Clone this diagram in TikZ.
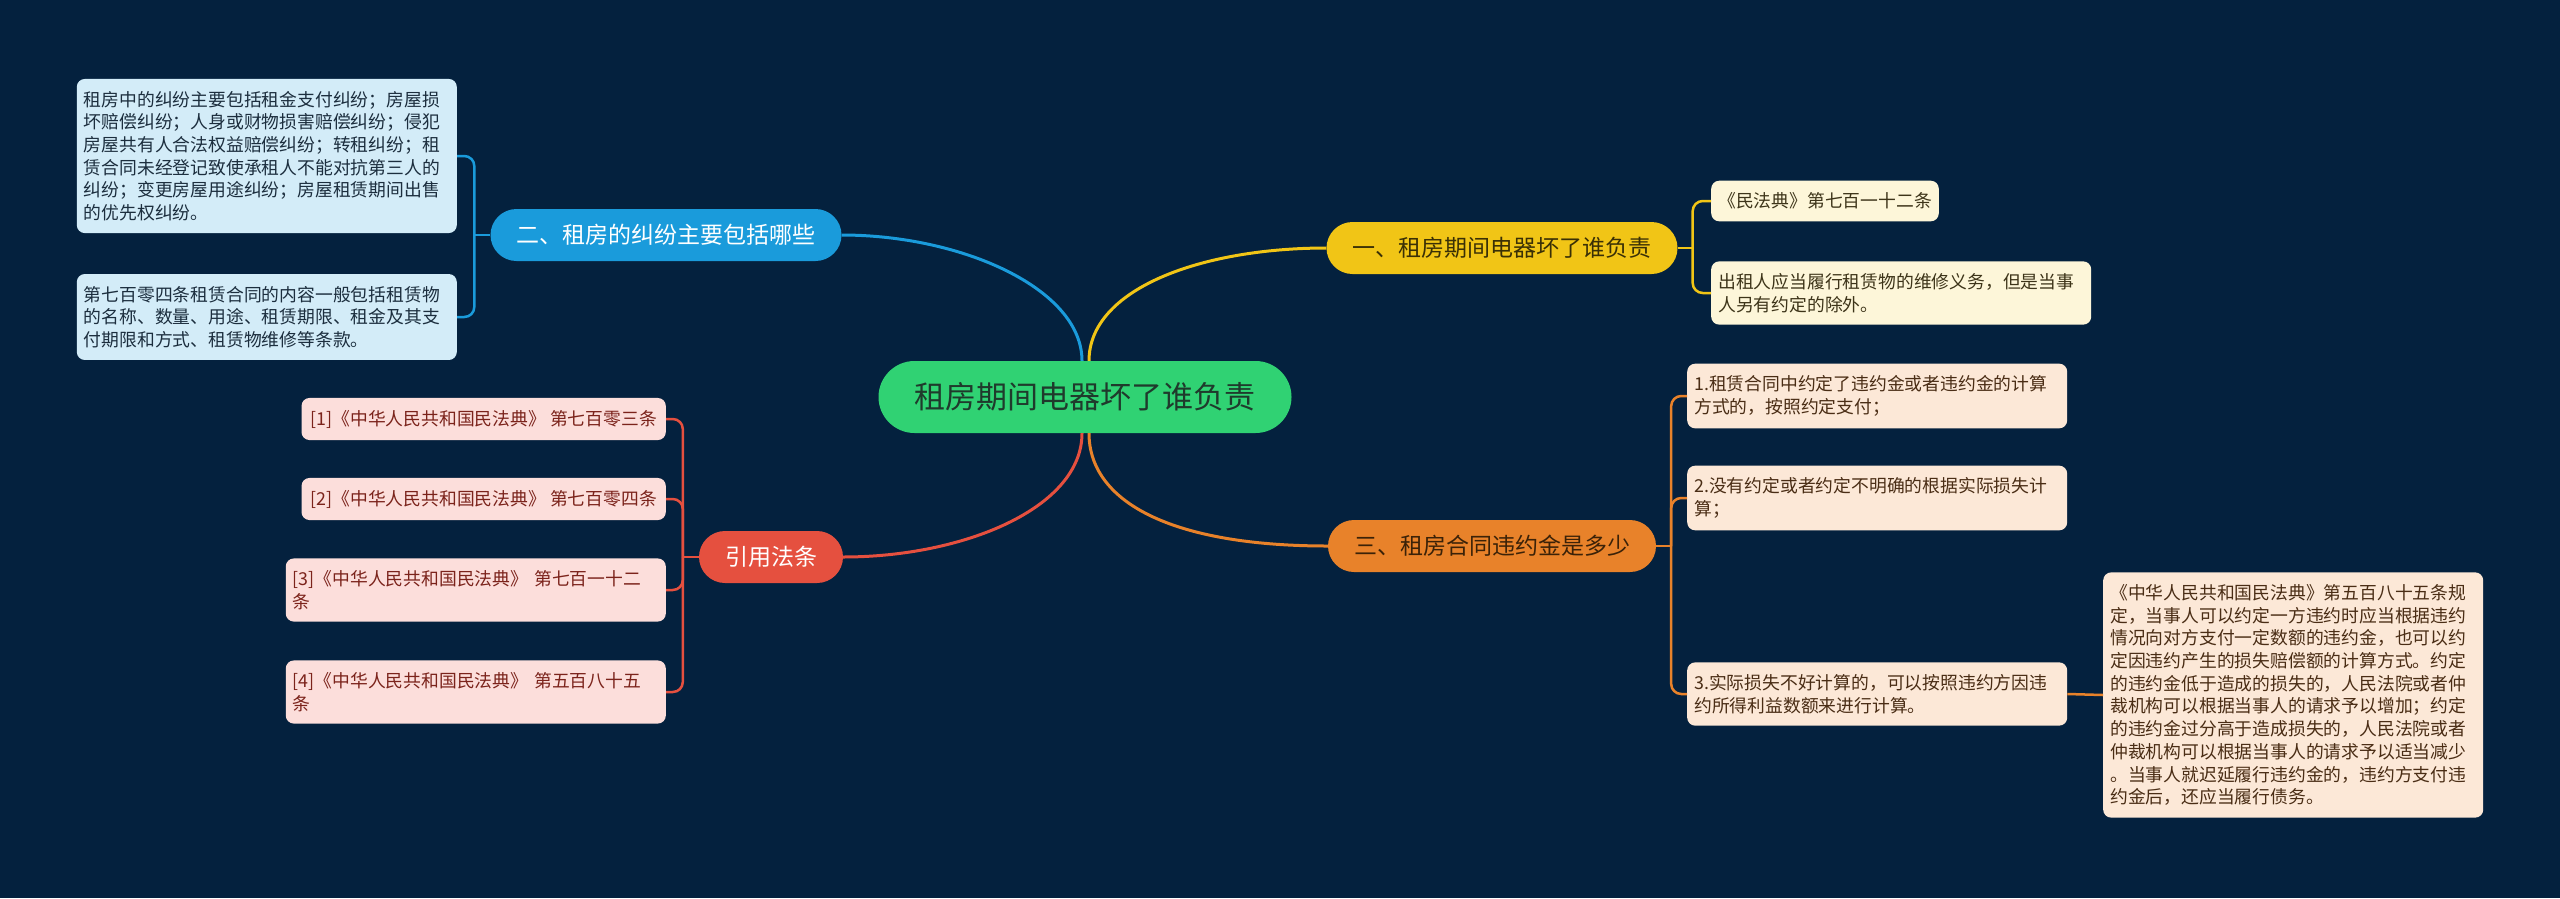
\documentclass[tikz,border=0pt]{standalone}
\usepackage{fontspec}
\setmainfont{Noto Sans CJK SC}
\usepackage{xcolor}
\usepackage{tikz}
\usetikzlibrary{positioning}

\definecolor{bgnavy}{HTML}{04213E}
\definecolor{cRoot}{HTML}{30D273}
\definecolor{cRootTx}{HTML}{1F3A2C}
\definecolor{cBlu}{HTML}{1A9BDB}
\definecolor{cBluLt}{HTML}{D3ECF8}
\definecolor{cBluDk}{HTML}{1C2E3E}
\definecolor{cYlw}{HTML}{F1C516}
\definecolor{cYlwTx}{HTML}{3A3006}
\definecolor{cYlwLt}{HTML}{FDF6D9}
\definecolor{cYlwDk}{HTML}{3D3419}
\definecolor{cOrg}{HTML}{E8822A}
\definecolor{cOrgTx}{HTML}{3B2208}
\definecolor{cOrgLt}{HTML}{FCE8D7}
\definecolor{cOrgDk}{HTML}{4A2D15}
\definecolor{cRed}{HTML}{E5503F}
\definecolor{cRedLt}{HTML}{FCDEDB}
\definecolor{cRedDk}{HTML}{7B231B}

\begin{document}
\begin{tikzpicture}[x=1pt, y=-1pt,
		rt/.style={fill=cRoot, text=cRootTx, rounded corners=36pt, minimum height=72pt,
			inner xsep=36pt, inner ysep=0pt, font=\fontsize{31}{36}\selectfont},
		br/.style={rounded corners=26pt, minimum height=52pt, inner xsep=26pt, inner ysep=0pt,
			font=\fontsize{23}{28}\selectfont},
		lf/.style={rounded corners=8pt, inner xsep=7pt, inner ysep=12pt, align=left,
			font=\fontsize{17.8}{22.7}\selectfont},
		wrap/.style={text width=366pt},
		ln/.style={line width=3pt},
		bk/.style={line width=2.5pt, rounded corners=10pt}]
	\fill[bgnavy] (0,0) rectangle (2560,898);
	\useasboundingbox (0,0) rectangle (2560,898);

	\node[rt] (r) at (1085,397) {租房期间电器坏了谁负责};

	% 一
	\node[br, fill=cYlw, text=cYlwTx] (b1) at (1502,248) {一、租房期间电器坏了谁负责};
	\node[lf, fill=cYlwLt, text=cYlwDk, anchor=west] (b1a) at (1711,201) {《民法典》第七百一十二条};
	\node[lf, wrap, fill=cYlwLt, text=cYlwDk, anchor=west] (b1b) at (1711,293)
		{出租人应当履行租赁物的维修义务，但是当事\\人另有约定的除外。};

	% 三
	\node[br, fill=cOrg, text=cOrgTx] (b3) at (1492,546) {三、租房合同违约金是多少};
	\node[lf, wrap, fill=cOrgLt, text=cOrgDk, anchor=west] (b3a) at (1687,396)
		{1.租赁合同中约定了违约金或者违约金的计算\\方式的，按照约定支付；};
	\node[lf, wrap, fill=cOrgLt, text=cOrgDk, anchor=west] (b3b) at (1687,498)
		{2.没有约定或者约定不明确的根据实际损失计\\算；};
	\node[lf, wrap, fill=cOrgLt, text=cOrgDk, anchor=west] (b3c) at (1687,694)
		{3.实际损失不好计算的，可以按照违约方因违\\约所得利益数额来进行计算。};
	\node[lf, wrap, fill=cOrgLt, text=cOrgDk, anchor=west] (b3d) at (2103,695)
		{《中华人民共和国民法典》第五百八十五条规\\定，当事人可以约定一方违约时应当根据违约\\情况向对方支付一定数额的违约金，也可以约\\定因违约产生的损失赔偿额的计算方式。约定\\的违约金低于造成的损失的，人民法院或者仲\\裁机构可以根据当事人的请求予以增加；约定\\的违约金过分高于造成损失的，人民法院或者\\仲裁机构可以根据当事人的请求予以适当减少\\。当事人就迟延履行违约金的，违约方支付违\\约金后，还应当履行债务。};

	% 二
	\node[br, fill=cBlu, text=white] (b2) at (666,235) {二、租房的纠纷主要包括哪些};
	\node[lf, wrap, fill=cBluLt, text=cBluDk, anchor=east] (b2a) at (457,156)
		{租房中的纠纷主要包括租金支付纠纷；房屋损\\坏赔偿纠纷；人身或财物损害赔偿纠纷；侵犯\\房屋共有人合法权益赔偿纠纷；转租纠纷；租\\赁合同未经登记致使承租人不能对抗第三人的\\纠纷；变更房屋用途纠纷；房屋租赁期间出售\\的优先权纠纷。};
	\node[lf, wrap, fill=cBluLt, text=cBluDk, anchor=east] (b2b) at (457,317)
		{第七百零四条租赁合同的内容一般包括租赁物\\的名称、数量、用途、租赁期限、租金及其支\\付期限和方式、租赁物维修等条款。};

	% 引用法条
	\node[br, fill=cRed, text=white] (b4) at (771,557) {引用法条};
	\node[lf, fill=cRedLt, text=cRedDk, anchor=east, inner xsep=9pt] (b4a) at (666,419) {[1]《中华人民共和国民法典》 第七百零三条};
	\node[lf, fill=cRedLt, text=cRedDk, anchor=east, inner xsep=9pt] (b4b) at (666,499) {[2]《中华人民共和国民法典》 第七百零四条};
	\node[lf, wrap, fill=cRedLt, text=cRedDk, anchor=east] (b4c) at (666,590) {[3]《中华人民共和国民法典》 第七百一十二\\条};
	\node[lf, wrap, fill=cRedLt, text=cRedDk, anchor=east] (b4d) at (666,692) {[4]《中华人民共和国民法典》 第五百八十五\\条};

	\draw[ln, cBlu] ([xshift=-3pt]r.north) .. controls +(0,-72) and +(120,0) .. (b2.east);
	\draw[ln, cYlw] ([xshift=4pt]r.north) .. controls +(0,-72) and +(-125,0) .. (b1.west);
	\draw[ln, cOrg] ([xshift=4pt]r.south) .. controls +(0,68) and +(-158,0) .. (b3.west);
	\draw[ln, cRed] ([xshift=-3pt]r.south) .. controls +(0,75) and +(120,0) .. (b4.east);

	\draw[bk, cYlw] (b1.east) -- ++(15,0) coordinate (j1);
	\draw[bk, cOrg] (b3.east) -- ++(15,0) coordinate (j3);
	\draw[bk, cBlu] (b2.west) -- ++(-16,0) coordinate (j2);
	\draw[bk, cRed] (b4.west) -- ++(-16,0) coordinate (j4);
	\foreach \c in {b1a, b1b}
		\draw[bk, cYlw] (j1) |- (\c.west);
	\foreach \c in {b3a, b3b, b3c}
		\draw[bk, cOrg] (j3) |- (\c.west);
	\foreach \c in {b2a, b2b}
		\draw[bk, cBlu] (j2) |- (\c.east);
	\foreach \c in {b4a, b4b, b4c, b4d}
		\draw[bk, cRed] (j4) |- (\c.east);
	\draw[bk, cOrg] (b3c.east) -- (b3d.west);
\end{tikzpicture}
\end{document}
